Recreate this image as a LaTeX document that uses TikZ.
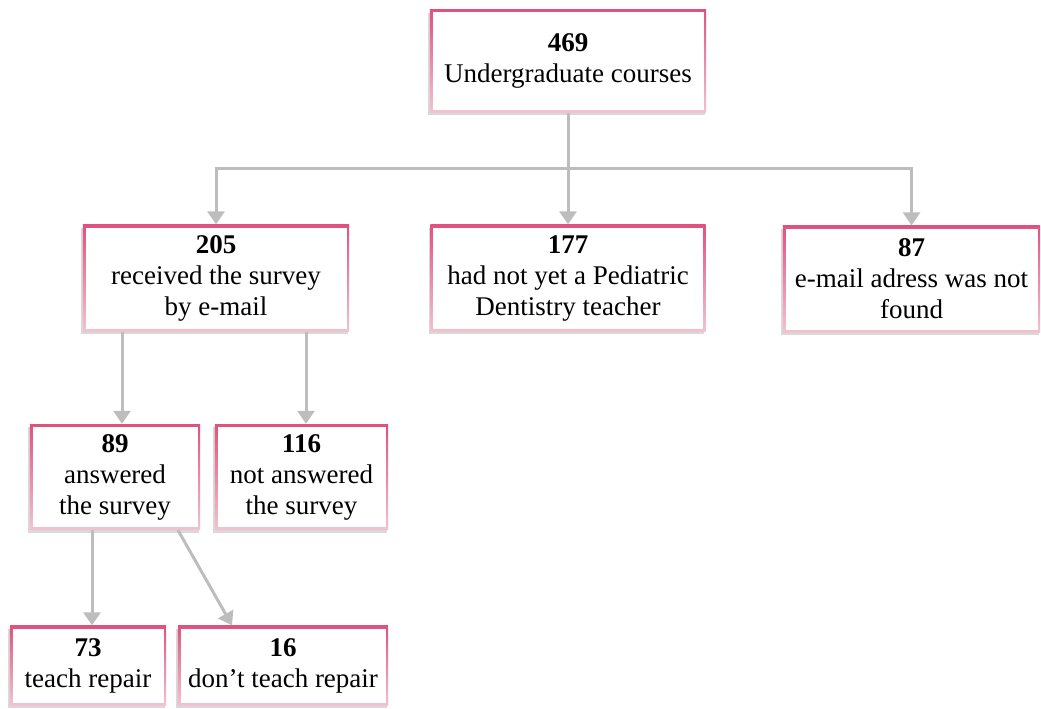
\documentclass[tikz,border=0pt]{standalone}
\usepackage{fontspec}
\setmainfont{Liberation Serif}
\usetikzlibrary{arrows.meta,shadows,backgrounds,calc}
\definecolor{pinktop}{HTML}{E0527E}
\definecolor{pinkbot}{HTML}{F2C2CF}
\definecolor{arr}{HTML}{BDBDBD}
\tikzset{
  box/.style={fill=white, inner sep=0pt, align=center, font=\fontsize{27}{31}\selectfont},
  conn/.style={draw=arr, line width=3pt, -{Triangle[length=13pt,width=17pt]}},
  plain/.style={draw=arr, line width=3pt}
}
\newcommand{\myframe}[1]{%
  \begin{scope}[on background layer]
  \shade[top color=pinktop, bottom color=pinkbot, drop shadow={shadow xshift=-1.5pt, shadow yshift=-3pt, opacity=0.3, fill=black!50}]
    ($(#1.north west)+(-2.5,-2.5)$) rectangle ($(#1.south east)+(2.5,2.5)$);
  \end{scope}}
\begin{document}
\begin{tikzpicture}[x=1pt,y=-1pt]
\useasboundingbox (0,0) rectangle (1041,709);
\node[box, minimum width=271pt, minimum height=97pt] (top) at (568,61) {\textbf{469}\\Undergraduate courses};
\node[box, minimum width=261pt, minimum height=101pt] (a) at (216,278) {\textbf{205}\\received the survey\\by e-mail};
\node[box, minimum width=270pt, minimum height=101pt] (b) at (568,278) {\textbf{177}\\had not yet a Pediatric\\Dentistry teacher};
\node[box, minimum width=252pt, minimum height=101pt] (c) at (911.5,279) {\textbf{87}\\e-mail adress was not\\found};
\node[box, minimum width=165pt, minimum height=100pt] (d) at (115,477) {\textbf{89}\\answered\\the survey};
\node[box, minimum width=168pt, minimum height=100pt] (e) at (301.5,477) {\textbf{116}\\not answered\\the survey};
\node[box, minimum width=151pt, minimum height=74pt] (f) at (88,665.5) {\textbf{73}\\teach repair};
\node[box, minimum width=205pt, minimum height=74pt] (g) at (283,665.5) {\textbf{16}\\don’t teach repair};
\foreach \n in {top,a,b,c,d,e,f,g} {\myframe{\n}}
\coordinate (j) at (top.south |- 0,168);
\coordinate (jl) at (a.north |- 0,168);
\coordinate (jr) at (c.north |- 0,168);
\draw[plain] ($(top.south)+(0,3)$) -- (j);
\draw[plain] ($(jl)+(-1.5,0)$) -- ($(jr)+(1.5,0)$);
\draw[conn] (jl) -- ($(a.north)+(0,-3)$);
\draw[conn] (j) -- ($(b.north)+(0,-3)$);
\draw[conn] (jr) -- ($(c.north)+(0,-3)$);
\draw[conn] ($(a.south)+(-94,3)$) -- ($(d.north)+(7,-3)$);
\draw[conn] ($(a.south)+(90,3)$) -- ($(e.north)+(4.5,-3)$);
\draw[conn] ($(d.south)+(-23,3)$) -- ($(f.north)+(4,-3)$);
\draw[conn] ($(d.south)+(63,3)$) -- ($(g.north)+(-51,-3)$);
\end{tikzpicture}
\end{document}
